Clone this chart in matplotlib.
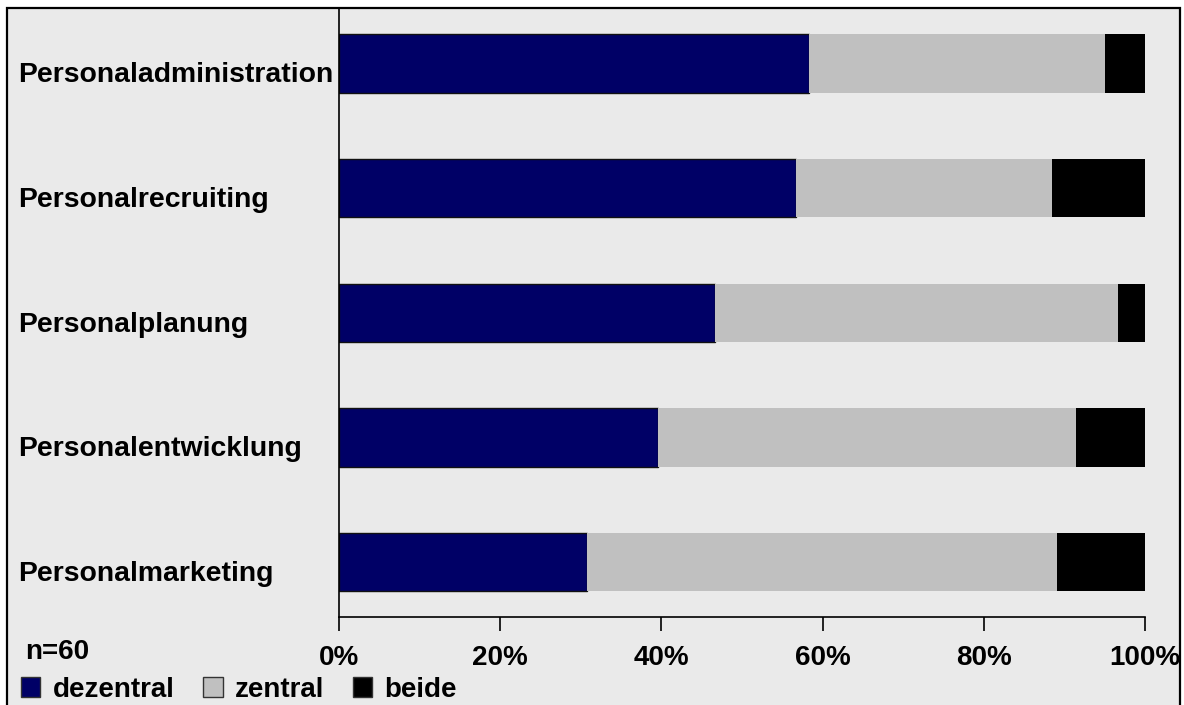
import matplotlib
matplotlib.use("Agg")
import matplotlib.pyplot as plt
from matplotlib.patches import Rectangle, Patch
from matplotlib.transforms import blended_transform_factory, ScaledTranslation
from matplotlib.ticker import PercentFormatter

plt.rcParams["font.family"] = ["Liberation Sans", "DejaVu Sans"]
plt.rcParams["font.weight"] = "bold"

categories = ["Personaladministration", "Personalrecruiting", "Personalplanung",
              "Personalentwicklung", "Personalmarketing"]
dezentral = [58.3, 56.7, 46.7, 39.6, 30.8]
zentral = [36.7, 31.7, 50.0, 51.8, 58.3]
beide = [5.0, 11.6, 3.3, 8.6, 10.9]
series_names = ["dezentral", "zentral", "beide"]
colors = ["#000066", "#C0C0C0", "#000000"]
x_ticks = [0, 20, 40, 60, 80, 100]

W, H = 1184, 705
fig = plt.figure(figsize=(W / 100, H / 100), dpi=100, facecolor="white")

# grey panel with black frame, kept behind the axes
panel = Rectangle((7 / W, -0.01), (1180 - 7) / W, (H - 8) / H + 0.01,
                  transform=fig.transFigure, facecolor="#EAEAEA",
                  edgecolor="black", linewidth=1.6, zorder=-10)
fig.add_artist(panel)

ax = fig.add_axes([339 / W, 1 - 617 / H, (1145 - 339) / W, (617 - 8) / H])
ax.set_facecolor("none")

y = list(range(len(categories)))
h = 0.47
left = [0] * len(categories)
for vals, name, c in zip([dezentral, zentral, beide], series_names, colors):
    ec = "#111111" if name == "dezentral" else c
    ax.barh(y, vals, left=left, height=h, color=c, edgecolor=ec,
            linewidth=1.0 if name == "dezentral" else 0, label=name)
    left = [a + b for a, b in zip(left, vals)]

ax.set_xlim(0, 100)
ax.set_ylim(4.44, -0.445)
ax.set_xticks(x_ticks)
ax.xaxis.set_major_formatter(PercentFormatter(decimals=0))
ax.tick_params(axis="x", direction="out", length=10, width=1.2, pad=10,
               labelsize=20)
ax.tick_params(axis="y", left=False, labelleft=False)
for lab in ax.get_xticklabels():
    lab.set_fontweight("bold")
ax.spines["top"].set_visible(False)
ax.spines["right"].set_visible(False)
ax.spines["left"].set_linewidth(1.2)
ax.spines["bottom"].set_linewidth(1.2)

# category labels, left aligned, baseline a bit below the bar centre
trans = blended_transform_factory(fig.transFigure, ax.transData)
trans = trans + ScaledTranslation(0, -19 / 100, fig.dpi_scale_trans)
for yi, cat in zip(y, categories):
    ax.text(18 / W, yi, cat, transform=trans, ha="left", va="baseline",
            fontsize=20.4, fontweight="bold", clip_on=False)

fig.text(25 / W, 1 - 659 / H, "n=60", ha="left", va="baseline",
         fontsize=20, fontweight="bold")

handles = [Patch(facecolor=c, edgecolor="#333333", linewidth=1.0) for c in colors]
fig.legend(handles, series_names, loc="center left",
           bbox_to_anchor=(21 / W, 1 - 690 / H), ncol=3, frameon=False,
           prop={"size": 20, "weight": "bold"}, handlelength=0.70,
           handleheight=0.72, handletextpad=0.43, columnspacing=1.04,
           borderpad=0, borderaxespad=0)

fig.savefig("out.png", dpi=100, facecolor="white")
